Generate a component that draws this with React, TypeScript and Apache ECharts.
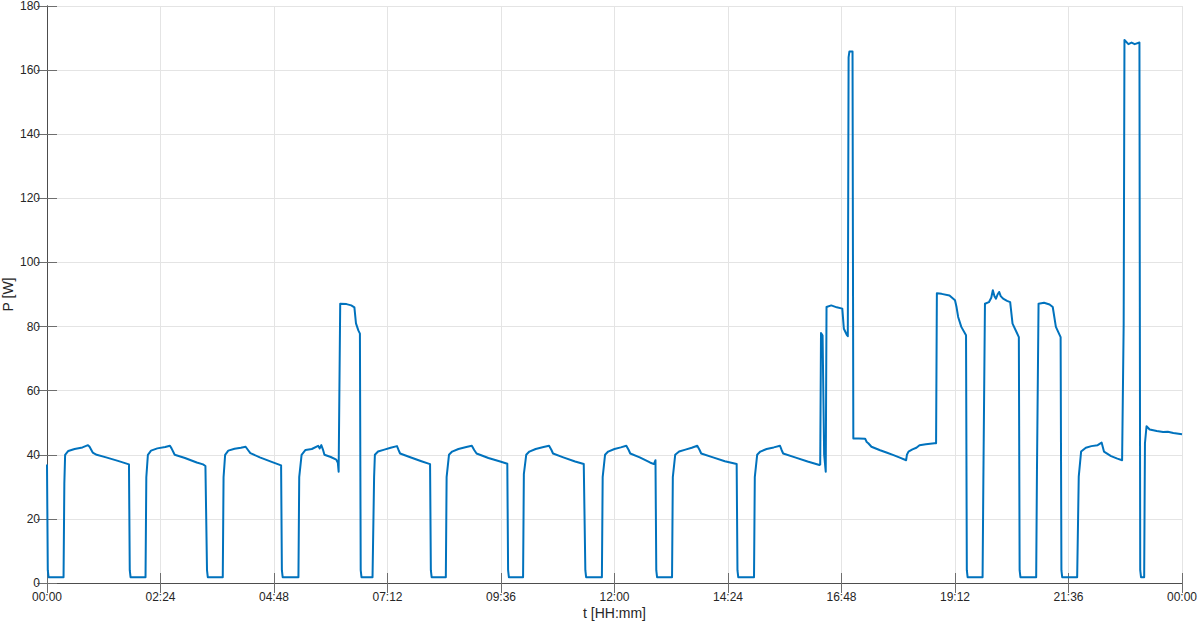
import React, { useEffect, useRef } from "react";
import * as echarts from "echarts";

// time in minutes since 00:00, power in W
const night1: [number, number][] = [
  [0, 37], [1, 4], [2, 1.8], [21, 1.8], [22, 31], [23, 40], [27, 41.2], [35, 41.8], [45, 42.3], [52, 43],
  [54, 42.5], [58, 40.7], [63, 40], [75, 39.2], [90, 38.1], [104, 37], [105, 4], [106, 1.8], [125, 1.8],
  [126, 33], [128, 40], [132, 41.3], [140, 42], [150, 42.4], [156, 42.8], [158, 42], [162, 40], [175, 39],
  [190, 37.6], [198, 37], [201, 36.5], [203, 4], [204, 1.8], [223, 1.8],
  [224, 33], [226, 40], [230, 41.3], [238, 41.9], [246, 42.2], [252, 42.5], [255, 41.5], [258, 40.5],
  [270, 39.2], [285, 37.8], [297, 36.7], [298, 4], [299, 1.8], [319, 1.8],
];

const morning: [number, number][] = [
  [320, 33], [323, 40], [328, 41.5], [336, 41.8], [344, 42.8], [346, 42], [348, 43], [350, 41.7], [352, 40],
  [360, 39.3], [367, 38.5], [369, 37.5], [370, 34.7], [372, 87.1], [380, 87], [386, 86.6], [390, 86],
  [392, 81], [395, 78.8], [397, 77.8], [398, 4], [399, 1.8], [413, 1.8],
  [415, 33], [416, 40], [420, 41], [428, 41.6], [436, 42.2], [444, 42.7], [446, 41.5], [448, 40.4],
  [460, 39.3], [475, 38], [486, 37.1], [487, 4], [488, 1.8], [506, 1.8],
  [507, 33], [510, 40], [514, 41], [522, 41.8], [532, 42.4], [539, 42.8], [542, 41.5], [545, 40.4],
  [560, 39], [575, 37.9], [584, 37.2], [585, 4], [586, 1.8], [604, 1.8],
];

const midday: [number, number][] = [
  [605, 34], [608, 40], [612, 41], [620, 41.8], [630, 42.4], [637, 42.8], [640, 41.5], [642, 40.4],
  [655, 39.2], [670, 37.9], [681, 37.1], [683, 4], [684, 1.8], [704, 1.8],
  [705, 33], [708, 40], [712, 41], [720, 41.8], [728, 42.3], [735, 42.8], [738, 41.5], [740, 40.4],
  [752, 39.2], [765, 37.6], [770, 37.1], [772, 38.3], [773, 4], [774, 1.8], [793, 1.8],
  [794, 33], [797, 40], [802, 41], [810, 41.6], [818, 42.2], [825, 42.8], [828, 41.5], [830, 40.4],
  [845, 39.2], [860, 38], [875, 37.1], [876, 4], [877, 1.8], [897, 1.8],
];

const afternoon: [number, number][] = [
  [898, 33], [901, 40], [905, 41], [913, 41.8], [922, 42.3], [930, 42.8], [932, 41.5], [934, 40.4],
  [950, 39.1], [965, 37.9], [980, 36.8], [981, 37], [982, 78], [984, 77.2], [986, 40], [988, 34.7],
  [989, 86.1], [995, 86.6], [1002, 86], [1009, 85.6], [1011, 79.3], [1015, 77.3], [1016, 77],
  [1017, 164], [1018, 165.8], [1022, 165.8], [1023, 45.1], [1030, 45.1], [1038, 45], [1040, 44],
  [1042, 43.6], [1046, 42.5], [1057, 41.4], [1065, 40.7], [1074, 39.9], [1082, 39.1], [1090, 38.3],
  [1091, 40], [1093, 41], [1098, 41.7], [1103, 42.2], [1107, 43], [1115, 43.3], [1126, 43.6], [1128, 43.6],
];

const evening: [number, number][] = [
  [1129, 90.4], [1135, 90.2], [1145, 89.7], [1152, 88.2], [1154, 86], [1156, 83], [1160, 79.9],
  [1166, 77.3], [1167, 4], [1168, 1.8], [1187, 1.8], [1188, 32.6], [1190, 87.1], [1195, 87.6],
  [1198, 89], [1200, 91.3], [1202, 89.5], [1204, 88.7], [1206, 90], [1208, 90.8], [1210, 89.5],
  [1213, 88.7], [1218, 88], [1222, 87.6], [1225, 80.9], [1230, 78.3], [1233, 76.7], [1234, 4],
  [1235, 1.8], [1255, 1.8], [1256, 35.5], [1258, 87.1], [1265, 87.4], [1272, 86.9], [1276, 86.1],
  [1280, 79.9], [1286, 76.7], [1287, 4], [1288, 1.8], [1307, 1.8], [1309, 33.2], [1312, 41],
  [1318, 42.2], [1325, 42.7], [1333, 43], [1338, 43.8], [1341, 41], [1350, 39.6], [1358, 38.8],
  [1364, 38.3], [1366, 80.9], [1367, 169.4], [1372, 168.1], [1376, 168.6], [1380, 168.1],
  [1386, 168.6], [1387, 4], [1388, 1.8], [1392, 1.8], [1393, 43.6], [1395, 48.9], [1399, 47.9],
  [1408, 47.4], [1416, 47.1], [1422, 47.2], [1429, 46.8], [1440, 46.4],
];

const X_MIN = 0;
const X_MAX = 1440;
const X_STEP = 144;
const Y_MIN = 0;
const Y_MAX = 180;
const Y_STEP = 20;

const FONT = "'Liberation Sans', Arial, Helvetica, sans-serif";
const TEXT = "#262626";
const AXIS = "#4d4d4d";
const TICK = "#6e6e6e";
const GRID = "#e4e4e4";

function fmtTime(v: number): string {
  const m = ((Math.round(v) % 1440) + 1440) % 1440;
  const hh = Math.floor(m / 60);
  const mm = m % 60;
  return String(hh).padStart(2, "0") + ":" + String(mm).padStart(2, "0");
}

export default function App() {
  const ref = useRef<HTMLDivElement>(null);
  useEffect(() => {
    if (!ref.current) return;
    const chart = echarts.init(ref.current, undefined, { renderer: "svg" });
    const data = [...night1, ...morning, ...midday, ...afternoon, ...evening];
    chart.setOption({
      animation: false,
      backgroundColor: "#ffffff",
      grid: { left: 47, right: 18, top: 6, bottom: 41, containLabel: false, outerBoundsMode: "none" },
      xAxis: [
        {
          type: "value",
          min: X_MIN,
          max: X_MAX,
          interval: X_STEP,
          position: "bottom",
          name: "t [HH:mm]",
          nameLocation: "middle",
          nameGap: 23,
          nameMoveOverlap: false,
          nameTextStyle: { color: TEXT, fontSize: 14, fontFamily: FONT },
          axisLine: { show: true, lineStyle: { color: AXIS, width: 1 } },
          axisTick: { show: true, inside: true, length: 10, lineStyle: { color: TICK } },
          axisLabel: { color: TEXT, fontSize: 12, fontFamily: FONT, margin: 8, formatter: fmtTime },
          splitLine: { show: true, lineStyle: { color: GRID, width: 1 } },
        },
        {
          type: "value",
          min: X_MIN,
          max: X_MAX,
          interval: X_STEP,
          position: "top",
          axisLine: { show: true, lineStyle: { color: AXIS, width: 1 } },
          axisTick: { show: true, inside: true, length: 10, lineStyle: { color: TICK } },
          axisLabel: { show: false },
          splitLine: { show: false },
        },
      ],
      yAxis: [
        {
          type: "value",
          min: Y_MIN,
          max: Y_MAX,
          interval: Y_STEP,
          position: "left",
          name: "P [W]",
          nameLocation: "middle",
          nameGap: 32,
          nameMoveOverlap: false,
          nameTextStyle: { color: TEXT, fontSize: 14, fontFamily: FONT },
          axisLine: { show: true, lineStyle: { color: AXIS, width: 1 } },
          axisTick: { show: true, inside: true, length: 10, lineStyle: { color: TICK } },
          axisLabel: { color: TEXT, fontSize: 12, fontFamily: FONT, margin: 7 },
          splitLine: { show: true, lineStyle: { color: GRID, width: 1 } },
        },
        {
          type: "value",
          min: Y_MIN,
          max: Y_MAX,
          interval: Y_STEP,
          position: "right",
          axisLine: { show: true, lineStyle: { color: AXIS, width: 1 } },
          axisTick: { show: true, inside: true, length: 10, lineStyle: { color: TICK } },
          axisLabel: { show: false },
          splitLine: { show: false },
        },
      ],
      series: [
        {
          type: "line",
          xAxisIndex: 0,
          yAxisIndex: 0,
          data,
          showSymbol: false,
          symbol: "none",
          lineStyle: { color: "#0072BD", width: 2, join: "round" },
          itemStyle: { color: "#0072BD" },
          silent: true,
        },
      ],
    });
    return () => chart.dispose();
  }, []);
  return (
    <div
      ref={ref}
      style={{ position: "fixed", left: 0, top: 0, width: 1200, height: 624, background: "#fff" }}
    />
  );
}
